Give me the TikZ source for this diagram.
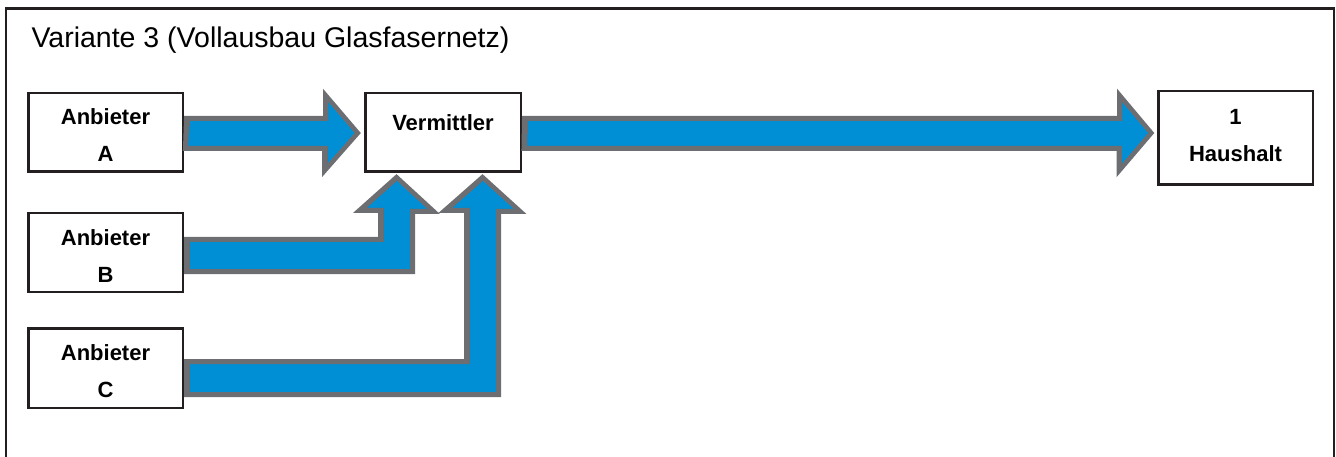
\documentclass[tikz,border=0pt]{standalone}
\usepackage{fontspec}
\setmainfont{Liberation Sans}
\usetikzlibrary{calc}
\definecolor{pipeblue}{RGB}{0,142,212}
\definecolor{pipegrey}{RGB}{109,110,113}
\definecolor{boxblack}{RGB}{35,31,32}
\tikzset{
  box/.style={draw=boxblack, line width=2.5pt, fill=white, rectangle, inner sep=0pt,
    align=center, font=\bfseries\fontsize{22}{37}\selectfont,
    minimum width=154.5pt, minimum height=78.5pt},
  pipe/.style={fill=pipeblue, draw=pipegrey, line width=5pt, line join=miter},
  frame/.style={draw=boxblack, line width=2.5pt}
}
\begin{document}
\begin{tikzpicture}[x=1pt, y=-1pt]
  \useasboundingbox (0,0) rectangle (1336,457);
  \clip (0,0) rectangle (1336,457);
  \draw[frame] (6,8.5) rectangle (1334,480);

  \node[anchor=base west, font=\fontsize{28.5}{34}\selectfont] (title) at (28,48)
    {Variante 3 (Vollausbau Glasfasernetz)};

  % boxes
  \node[box, text height=59pt, text depth=0pt] (A) at (105.5,132.5) {Anbieter\\A};
  \node[box, text height=59pt, text depth=0pt] (B) at (105.5,252.5) {Anbieter\\B};
  \node[box, text height=59pt, text depth=0pt, minimum height=79.5pt] (C) at (105.5,368) {Anbieter\\C};
  \node[box, text height=16pt, text depth=19pt, minimum width=155.5pt] (V) at (443,132.5) {Vermittler};
  \node[box, text height=48pt, text depth=0pt, minimum height=93.5pt] (H) at (1235.5,138) {1\\Haushalt};

  % A -> Vermittler
  \draw[pipe] ($(A.east)+(2.5,-14)$) -- ++(139,0) -- ++(0,-23)
    -- ($(V.west)+(-6.5,0.5)$) -- ++(-33,37.5) -- ++(0,-22) -- ++(-139,0) -- cycle;

  % Vermittler -> Haushalt
  \draw[pipe] ($(V.east)+(2.5,-14)$) -- ++(595,0) -- ++(0,-23)
    -- ($(H.west)+(-6,-5)$) -- ++(-32,37.5) -- ++(0,-22) -- ++(-595,0) -- cycle;

  % B -> Vermittler (bent upwards)
  \draw[pipe] ($(B.east)+(2.5,-13)$) -- ++(194,0) -- ++(0,-29)
    -- ++(-21,0) -- ($(V.south west)+(32.5,4.5)$) -- ++(37,34) -- ++(-21,0)
    -- ++(0,60) -- ++(-226,0) -- cycle;

  % C -> Vermittler (bent upwards)
  \draw[pipe] ($(C.east)+(2.5,-6.5)$) -- ++(280,0) -- ++(0,-151)
    -- ++(-21.5,0) -- ($(V.south west)+(118.5,4.5)$) -- ++(37.5,34) -- ++(-21.5,0)
    -- ++(0,183) -- ++(-312,0) -- cycle;
\end{tikzpicture}
\end{document}
